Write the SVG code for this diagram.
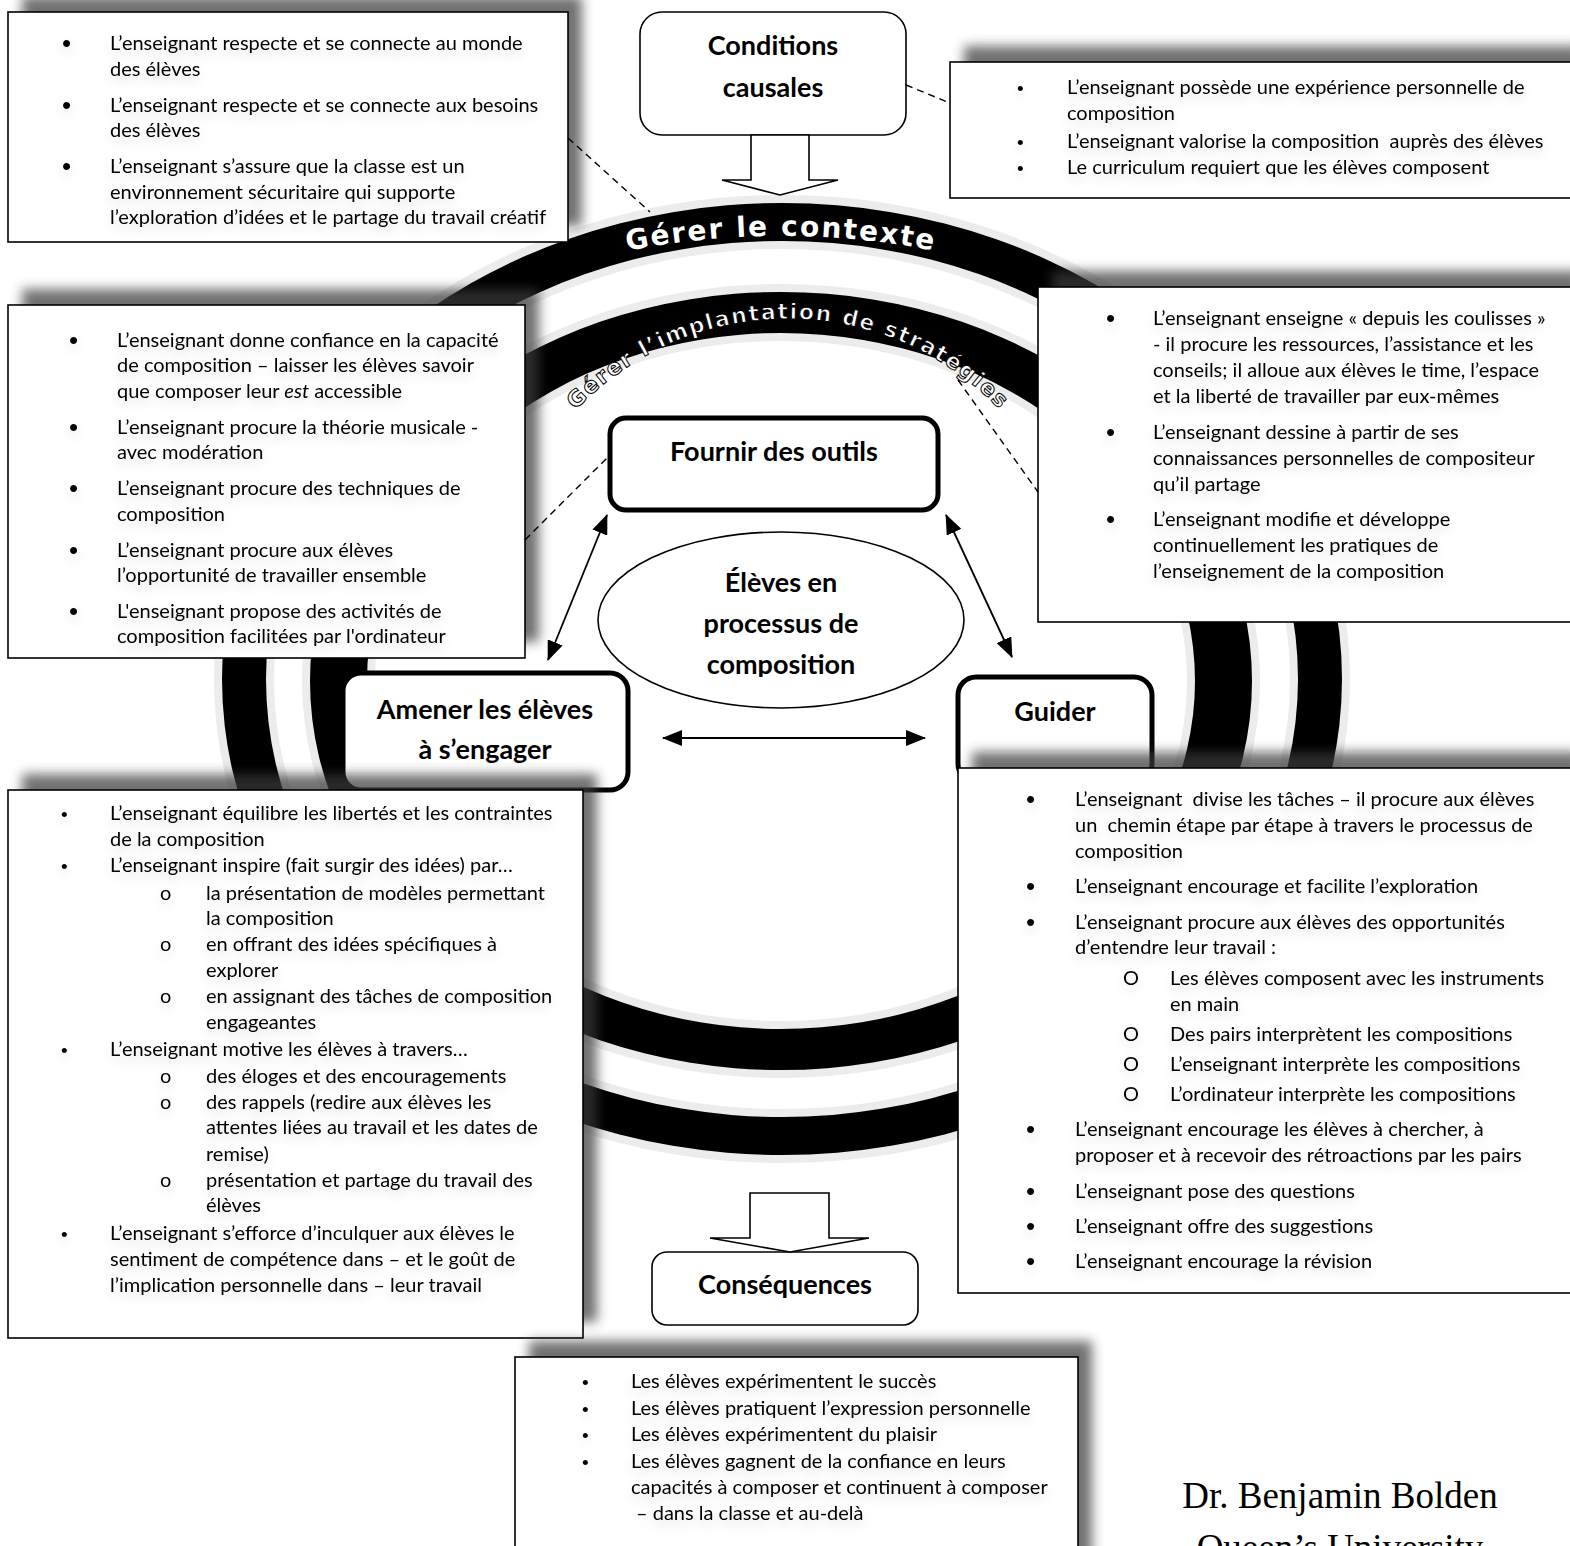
<svg xmlns="http://www.w3.org/2000/svg" width="1570" height="1546" viewBox="0 0 1570 1546">
<defs>
<style>
.tx{font-family:Lato,"Liberation Sans",sans-serif;font-size:20px;fill:#000}
.it{font-style:italic}
.bu{font-family:"Liberation Sans",sans-serif;font-size:26px;fill:#000}
.bs{font-family:"Liberation Sans",sans-serif;font-size:19px;fill:#000}
.lb{font-family:Lato,"Liberation Sans",sans-serif;font-weight:bold;font-size:27px;fill:#000;text-anchor:middle}
.box{fill:#fff;stroke:#000;stroke-width:1.6}
.nd{fill:#fff;stroke:#000;stroke-width:5}
.nt{fill:#fff;stroke:#000;stroke-width:1.6}
.sh{fill:#3a3a3a;opacity:0.72;filter:url(#bs)}
.dash{fill:none;stroke:#000;stroke-width:1.4;stroke-dasharray:7 5}
.arr{fill:none;stroke:#000;stroke-width:1.8;marker-start:url(#ah);marker-end:url(#ah)}
.blk{fill:#fff;stroke:#000;stroke-width:1.6}
.ring{fill:#000;fill-rule:evenodd;stroke:#ececec;stroke-width:16;paint-order:stroke}
.ct{font-family:"DejaVu Sans",sans-serif;font-weight:bold;fill:#fff}
.sr{font-family:"Liberation Serif",serif;font-size:37px;fill:#000;text-anchor:middle}
</style>
<filter id="bs" x="-10%" y="-20%" width="120%" height="140%"><feGaussianBlur stdDeviation="6"/></filter>
<filter id="gl" x="-5%" y="-10%" width="110%" height="120%">
<feGaussianBlur in="SourceAlpha" stdDeviation="6" result="b"/>
<feOffset in="b" dx="0" dy="5" result="o"/>
<feComponentTransfer in="o" result="c"><feFuncA type="linear" slope="0.16"/></feComponentTransfer>
<feMerge><feMergeNode in="c"/><feMergeNode in="SourceGraphic"/></feMerge>
</filter>
<marker id="ah" viewBox="0 0 20 16" markerWidth="20" markerHeight="16" refX="19" refY="8" orient="auto-start-reverse" markerUnits="userSpaceOnUse"><path d="M0,0 L20,8 L0,16 z" fill="#000"/></marker>
<path id="arcA" d="M 381,343 A 800,800 0 0 1 1181,343"/>
<path id="arcB" d="M 495,612 A 293,293 0 0 1 1081,612"/>
<clipPath id="clipE"><rect x="590" y="520" width="390" height="157"/></clipPath>
</defs>
<rect width="1570" height="1546" fill="#fff"/>

<g id="rings">
<path class="ring" d="M 222,679 a 560,476 0 1 0 1120,0 a 560,476 0 1 0 -1120,0 Z M 266,679 a 516,438 0 1 0 1032,0 a 516,438 0 1 0 -1032,0 Z"/>
<path class="ring" d="M 310,681 a 471,389 0 1 0 942,0 a 471,389 0 1 0 -942,0 Z M 367,681 a 414,348 0 1 0 828,0 a 414,348 0 1 0 -828,0 Z"/>
<text class="ct" font-size="28" letter-spacing="2"><textPath href="#arcA" startOffset="50%" text-anchor="middle">Gérer le contexte</textPath></text>
<text class="ct" font-size="22" letter-spacing="1.5" stroke="#000" stroke-width="1"><textPath href="#arcB" startOffset="50%" text-anchor="middle">Gérer l’implantation de stratégies</textPath></text>
</g>

<g id="conditions">
<rect class="nt" x="640" y="12" width="266" height="123" rx="22"/>
<text class="lb" x="773" y="55">Conditions</text>
<text class="lb" x="773" y="97">causales</text>
</g>

<g id="box-contexte-gauche">
<rect class="sh" x="22" y="-4" width="560" height="230"/>
<rect class="box" x="8" y="12" width="560" height="230"/>
<g filter="url(#gl)">
<text class="bu" x="62" y="52">•</text>
<text class="tx" x="110" y="50">L’enseignant respecte et se connecte au monde</text>
<text class="tx" x="110" y="76">des élèves</text>
<text class="bu" x="62" y="114">•</text>
<text class="tx" x="110" y="112">L’enseignant respecte et se connecte aux besoins</text>
<text class="tx" x="110" y="137">des élèves</text>
<text class="bu" x="62" y="175">•</text>
<text class="tx" x="110" y="173">L’enseignant s’assure que la classe est un</text>
<text class="tx" x="110" y="199">environnement sécuritaire qui supporte</text>
<text class="tx" x="110" y="224">l’exploration d’idées et le partage du travail créatif</text>
</g>
</g>

<g id="box-conditions">
<rect class="sh" x="964" y="46" width="618" height="136"/>
<rect class="box" x="950" y="62" width="630" height="136"/>
<g filter="url(#gl)">
<text class="bs" x="1017" y="95">•</text>
<text class="tx" x="1067" y="94">L’enseignant possède une expérience personnelle de</text>
<text class="tx" x="1067" y="120">composition</text>
<text class="bs" x="1017" y="149">•</text>
<text class="tx" x="1067" y="148">L’enseignant valorise la composition&#160; auprès des élèves</text>
<text class="bs" x="1017" y="175">•</text>
<text class="tx" x="1067" y="174">Le curriculum requiert que les élèves composent</text>
</g>
</g>

<g id="box-outils">
<rect class="sh" x="22" y="289" width="517" height="353"/>
<rect class="box" x="8" y="305" width="517" height="353"/>
<g filter="url(#gl)">
<text class="bu" x="69" y="349">•</text>
<text class="tx" x="117" y="347">L’enseignant donne confiance en la capacité</text>
<text class="tx" x="117" y="372">de composition – laisser les élèves savoir</text>
<text class="tx" x="117" y="398">que composer leur <tspan class="it">est</tspan> accessible</text>
<text class="bu" x="69" y="436">•</text>
<text class="tx" x="117" y="434">L’enseignant procure la théorie musicale -</text>
<text class="tx" x="117" y="459">avec modération</text>
<text class="bu" x="69" y="497">•</text>
<text class="tx" x="117" y="495">L’enseignant procure des techniques de</text>
<text class="tx" x="117" y="521">composition</text>
<text class="bu" x="69" y="559">•</text>
<text class="tx" x="117" y="557">L’enseignant procure aux élèves</text>
<text class="tx" x="117" y="582">l’opportunité de travailler ensemble</text>
<text class="bu" x="69" y="620">•</text>
<text class="tx" x="117" y="618">L'enseignant propose des activités de</text>
<text class="tx" x="117" y="643">composition facilitées par l'ordinateur</text>
</g>
</g>

<g id="box-guider-haut">
<rect class="sh" x="1052" y="271" width="530" height="335"/>
<rect class="box" x="1038" y="287" width="540" height="335"/>
<g filter="url(#gl)">
<text class="bu" x="1106" y="327">•</text>
<text class="tx" x="1153" y="325">L’enseignant enseigne « depuis les coulisses »</text>
<text class="tx" x="1153" y="351">- il procure les ressources, l’assistance et les</text>
<text class="tx" x="1153" y="377">conseils; il alloue aux élèves le time, l’espace</text>
<text class="tx" x="1153" y="403">et la liberté de travailler par eux-mêmes</text>
<text class="bu" x="1106" y="441">•</text>
<text class="tx" x="1153" y="439">L’enseignant dessine à partir de ses</text>
<text class="tx" x="1153" y="465">connaissances personnelles de compositeur</text>
<text class="tx" x="1153" y="491">qu’il partage</text>
<text class="bu" x="1106" y="528">•</text>
<text class="tx" x="1153" y="526">L’enseignant modifie et développe</text>
<text class="tx" x="1153" y="552">continuellement les pratiques de</text>
<text class="tx" x="1153" y="578">l’enseignement de la composition</text>
</g>
</g>

<g id="fournir">
<rect class="nd" x="610" y="418" width="328" height="92" rx="16"/>
<text class="lb" x="774" y="461">Fournir des outils</text>
</g>

<g id="eleves">
<ellipse cx="781" cy="620" rx="183" ry="88" fill="#fff" stroke="#000" stroke-width="1.6"/>
<g clip-path="url(#clipE)">
<text class="lb" x="781" y="592">Élèves en</text>
<text class="lb" x="781" y="633">processus de</text>
<text class="lb" x="781" y="674">composition</text>
</g>
</g>

<g id="amener">
<rect class="nd" x="343" y="673" width="285" height="117" rx="18"/>
<text class="lb" x="485" y="719">Amener les élèves</text>
<text class="lb" x="485" y="759">à s’engager</text>
</g>

<g id="guider">
<rect class="nd" x="958" y="677" width="194" height="105" rx="18"/>
<text class="lb" x="1055" y="721">Guider</text>
</g>

<g id="box-engager">
<rect class="sh" x="22" y="774" width="575" height="548"/>
<rect class="box" x="8" y="790" width="575" height="548"/>
<g filter="url(#gl)">
<text class="bs" x="61" y="821">•</text>
<text class="tx" x="110" y="820">L’enseignant équilibre les libertés et les contraintes</text>
<text class="tx" x="110" y="846">de la composition</text>
<text class="bs" x="61" y="873">•</text>
<text class="tx" x="110" y="872">L’enseignant inspire (fait surgir des idées) par…</text>
<text class="tx" x="160" y="900">o</text>
<text class="tx" x="206" y="900">la présentation de modèles permettant</text>
<text class="tx" x="206" y="925">la composition</text>
<text class="tx" x="160" y="951">o</text>
<text class="tx" x="206" y="951">en offrant des idées spécifiques à</text>
<text class="tx" x="206" y="977">explorer</text>
<text class="tx" x="160" y="1003">o</text>
<text class="tx" x="206" y="1003">en assignant des tâches de composition</text>
<text class="tx" x="206" y="1029">engageantes</text>
<text class="bs" x="61" y="1057">•</text>
<text class="tx" x="110" y="1056">L’enseignant motive les élèves à travers…</text>
<text class="tx" x="160" y="1083">o</text>
<text class="tx" x="206" y="1083">des éloges et des encouragements</text>
<text class="tx" x="160" y="1109">o</text>
<text class="tx" x="206" y="1109">des rappels (redire aux élèves les</text>
<text class="tx" x="206" y="1134">attentes liées au travail et les dates de</text>
<text class="tx" x="206" y="1161">remise)</text>
<text class="tx" x="160" y="1187">o</text>
<text class="tx" x="206" y="1187">présentation et partage du travail des</text>
<text class="tx" x="206" y="1212">élèves</text>
<text class="bs" x="61" y="1241">•</text>
<text class="tx" x="110" y="1240">L’enseignant s’efforce d’inculquer aux élèves le</text>
<text class="tx" x="110" y="1266">sentiment de compétence dans – et le goût de</text>
<text class="tx" x="110" y="1292">l’implication personnelle dans – leur travail</text>
</g>
</g>

<g id="box-guider-bas">
<rect class="sh" x="972" y="752" width="610" height="525"/>
<rect class="box" x="958" y="768" width="620" height="525"/>
<g filter="url(#gl)">
<text class="bu" x="1026" y="808">•</text>
<text class="tx" x="1075" y="806">L’enseignant&#160; divise les tâches – il procure aux élèves</text>
<text class="tx" x="1075" y="832">un&#160; chemin étape par étape à travers le processus de</text>
<text class="tx" x="1075" y="858">composition</text>
<text class="bu" x="1026" y="895">•</text>
<text class="tx" x="1075" y="893">L’enseignant encourage et facilite l’exploration</text>
<text class="bu" x="1026" y="931">•</text>
<text class="tx" x="1075" y="929">L’enseignant procure aux élèves des opportunités</text>
<text class="tx" x="1075" y="954">d’entendre leur travail :</text>
<text class="tx" x="1123" y="985">O</text>
<text class="tx" x="1170" y="985">Les élèves composent avec les instruments</text>
<text class="tx" x="1170" y="1011">en main</text>
<text class="tx" x="1123" y="1041">O</text>
<text class="tx" x="1170" y="1041">Des pairs interprètent les compositions</text>
<text class="tx" x="1123" y="1071">O</text>
<text class="tx" x="1170" y="1071">L’enseignant interprète les compositions</text>
<text class="tx" x="1123" y="1101">O</text>
<text class="tx" x="1170" y="1101">L’ordinateur interprète les compositions</text>
<text class="bu" x="1026" y="1138">•</text>
<text class="tx" x="1075" y="1136">L’enseignant encourage les élèves à chercher, à</text>
<text class="tx" x="1075" y="1162">proposer et à recevoir des rétroactions par les pairs</text>
<text class="bu" x="1026" y="1200">•</text>
<text class="tx" x="1075" y="1198">L’enseignant pose des questions</text>
<text class="bu" x="1026" y="1235">•</text>
<text class="tx" x="1075" y="1233">L’enseignant offre des suggestions</text>
<text class="bu" x="1026" y="1270">•</text>
<text class="tx" x="1075" y="1268">L’enseignant encourage la révision</text>
</g>
</g>

<g id="consequences">
<rect class="nt" x="652" y="1252" width="266" height="73" rx="15"/>
<text class="lb" x="785" y="1294">Conséquences</text>
</g>

<g id="box-consequences">
<rect class="sh" x="529" y="1341" width="563" height="220"/>
<rect class="box" x="515" y="1357" width="563" height="200"/>
<g filter="url(#gl)">
<text class="bs" x="582" y="1389">•</text>
<text class="tx" x="631" y="1388">Les élèves expérimentent le succès</text>
<text class="bs" x="582" y="1416">•</text>
<text class="tx" x="631" y="1415">Les élèves pratiquent l’expression personnelle</text>
<text class="bs" x="582" y="1442">•</text>
<text class="tx" x="631" y="1441">Les élèves expérimentent du plaisir</text>
<text class="bs" x="582" y="1469">•</text>
<text class="tx" x="631" y="1468">Les élèves gagnent de la confiance en leurs</text>
<text class="tx" x="631" y="1494">capacités à composer et continuent à composer</text>
<text class="tx" x="636" y="1520">– dans la classe et au-delà</text>
</g>
</g>

<g id="auteur">
<text class="sr" x="1340" y="1508">Dr. Benjamin Bolden</text>
<text class="sr" x="1340" y="1560">Queen’s University</text>
</g>

<g id="connectors">
<polygon class="blk" points="751,135 809,135 809,180 838,180 780,195 722,180 751,180"/>
<polygon class="blk" points="750,1193 829,1193 829,1238 869,1238 790,1252 710,1238 750,1238"/>
<line class="dash" x1="906" y1="85" x2="950" y2="103"/>
<line class="dash" x1="568" y1="138" x2="650" y2="212"/>
<line class="dash" x1="525" y1="540" x2="610" y2="455"/>
<line class="dash" x1="958" y1="380" x2="1038" y2="492"/>
<line class="arr" x1="607" y1="515" x2="548" y2="660"/>
<line class="arr" x1="946" y1="515" x2="1012" y2="657"/>
<line class="arr" x1="663" y1="738" x2="925" y2="738"/>
</g>
</svg>
